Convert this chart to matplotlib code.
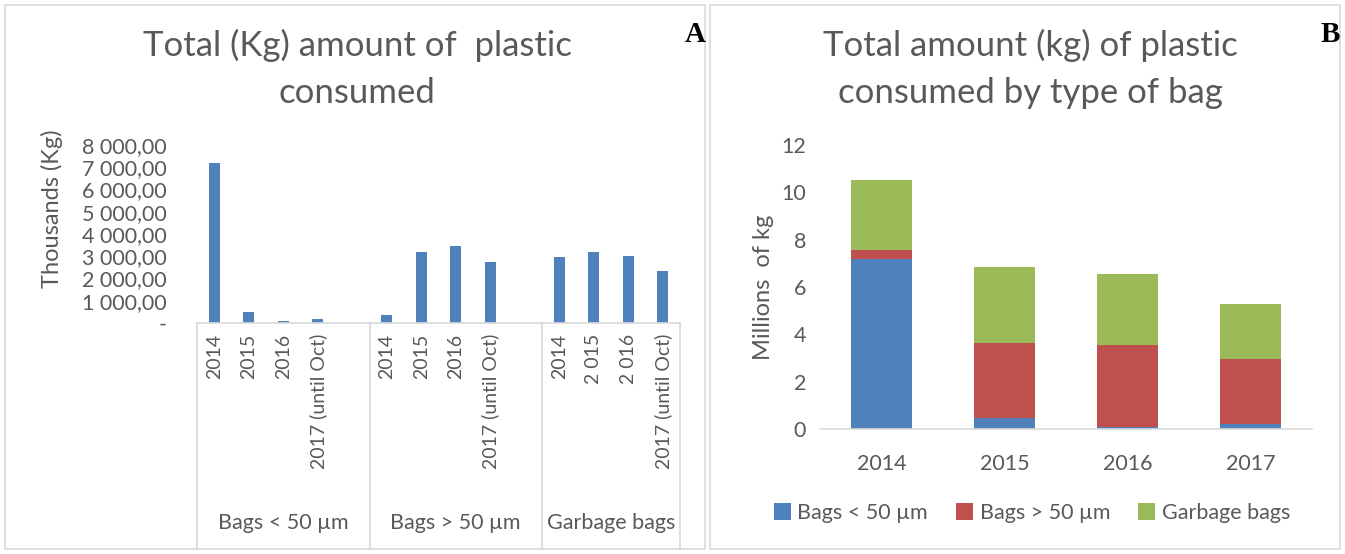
import numpy as np
import matplotlib
matplotlib.use("Agg")
import matplotlib.pyplot as plt
from matplotlib.patches import Rectangle
from matplotlib.ticker import FuncFormatter

# consumption in thousands of kg, per bag type and year
years = ["2014", "2015", "2016", "2017"]
bags_lt50 = [7200, 480, 100, 200]
bags_gt50 = [380, 3170, 3450, 2750]
garbage = [2960, 3200, 3000, 2350]

groups = ["Bags < 50 µm", "Bags > 50 µm", "Garbage bags"]
labels_lt50 = ["2014", "2015", "2016", "2017 (until Oct)", ""]
labels_gt50 = ["2014", "2015", "2016", "2017 (until Oct)", ""]
labels_garbage = ["2014", "2 015", "2 016", "2017 (until Oct)"]

blue = "#4F81BD"
red = "#C0504D"
green = "#9BBB59"
txt = "#595959"
line = "#D9D9D9"

plt.rcParams["font.family"] = ["Lato", "DejaVu Sans"]

fig = plt.figure(figsize=(13.45, 5.54), dpi=100)
W, H = 1345, 554

def box(x0, y0, x1, y1):
    return [x0 / W, 1 - y1 / H, (x1 - x0) / W, (y1 - y0) / H]

# panel frames
for x0, x1 in [(5, 705), (710, 1340)]:
    fig.patches.append(Rectangle((x0 / W, 5 / H), (x1 - x0) / W, (549 - 5) / H,
                                 transform=fig.transFigure, fill=False,
                                 edgecolor=line, lw=1.2))

# ---- panel A: multi-level category bars ----
ax = fig.add_axes(box(197, 145, 680, 323))
vals = bags_lt50 + [0] + bags_gt50 + [0] + garbage
ticklabels = labels_lt50 + labels_gt50 + labels_garbage
x = np.arange(len(vals))
ax.bar(x, vals, width=0.31, color=blue)
ax.set_xlim(-0.5, len(vals) - 0.5)
ax.set_ylim(0, 8000)
ax.set_yticks(np.arange(0, 8001, 1000))
ax.yaxis.set_major_formatter(FuncFormatter(
    lambda v, p: "-" if v == 0 else f"{v:,.2f}".replace(",", " ").replace(".", ",")))
ax.set_xticks(x)
ax.set_xticklabels(ticklabels, rotation=90, va="top", ha="center")
ax.tick_params(axis="x", length=0, pad=8, labelsize=14, labelcolor=txt)
ax.tick_params(axis="y", length=0, pad=22, labelsize=15.5, labelcolor=txt)
for s in ["top", "right", "left"]:
    ax.spines[s].set_visible(False)
ax.spines["bottom"].set_color(line)
ax.spines["bottom"].set_linewidth(1.2)
ax.set_ylabel("Thousands (Kg)", fontsize=17, color=txt, labelpad=6)
ax.yaxis.set_label_coords(-0.278, 0.64)

trans = matplotlib.transforms.blended_transform_factory(ax.transData, ax.transAxes)
depth = (548 - 323) / (323 - 145)
for xb in [-0.5, 4.5, 9.5, 13.5]:
    ax.plot([xb, xb], [0, -depth], transform=trans, color=line, lw=1.2, clip_on=False)
for g, (a, b) in zip(groups, [(-0.5, 4.5), (4.5, 9.5), (9.5, 13.5)]):
    ax.text((a + b) / 2, -(523 - 323) / (323 - 145), g, transform=trans,
            ha="center", va="center", fontsize=15.5, color=txt)

fig.text(357 / W, 1 - 69 / H, "Total (Kg) amount of  plastic\nconsumed", ha="center",
         va="center", fontsize=25, color=txt, linespacing=1.55)
fig.text(695 / W, 1 - 35 / H, "A", ha="center", va="center", fontsize=21,
         fontweight="bold", family="Liberation Serif")

# ---- panel B: stacked bars in millions ----
bx = fig.add_axes(box(820, 145, 1312, 429))
xb = np.arange(len(years))
lt = np.array(bags_lt50) / 1000
gt = np.array(bags_gt50) / 1000
gb = np.array(garbage) / 1000
bx.bar(xb, lt, width=0.49, color=blue, label="Bags < 50 µm")
bx.bar(xb, gt, width=0.49, bottom=lt, color=red, label="Bags > 50 µm")
bx.bar(xb, gb, width=0.49, bottom=lt + gt, color=green, label="Garbage bags")
bx.set_xlim(-0.5, len(years) - 0.5)
bx.set_ylim(0, 12)
bx.set_yticks(np.arange(0, 13, 2))
bx.set_xticks(xb)
bx.set_xticklabels(years)
bx.tick_params(axis="both", length=0, labelsize=15.5, labelcolor=txt)
bx.tick_params(axis="x", pad=18)
bx.tick_params(axis="y", pad=10)
for s in ["top", "right", "left"]:
    bx.spines[s].set_visible(False)
bx.spines["bottom"].set_color(line)
bx.spines["bottom"].set_linewidth(1.2)
bx.set_ylabel("Millions  of kg", fontsize=17, color=txt, labelpad=5)
leg = bx.legend(loc="center", bbox_to_anchor=(1032 / W, 1 - 513 / H),
                bbox_transform=fig.transFigure, ncol=3, frameon=False,
                fontsize=15.5, handlelength=0.8, handleheight=0.8,
                handletextpad=0.3, columnspacing=1.3)
for t in leg.get_texts():
    t.set_color(txt)

fig.text(1030 / W, 1 - 69 / H, "Total amount (kg) of plastic\nconsumed by type of bag",
         ha="center", va="center", fontsize=25, color=txt, linespacing=1.55)
fig.text(1330 / W, 1 - 35 / H, "B", ha="center", va="center", fontsize=21,
         fontweight="bold", family="Liberation Serif")

fig.savefig("out.png", dpi=100)
